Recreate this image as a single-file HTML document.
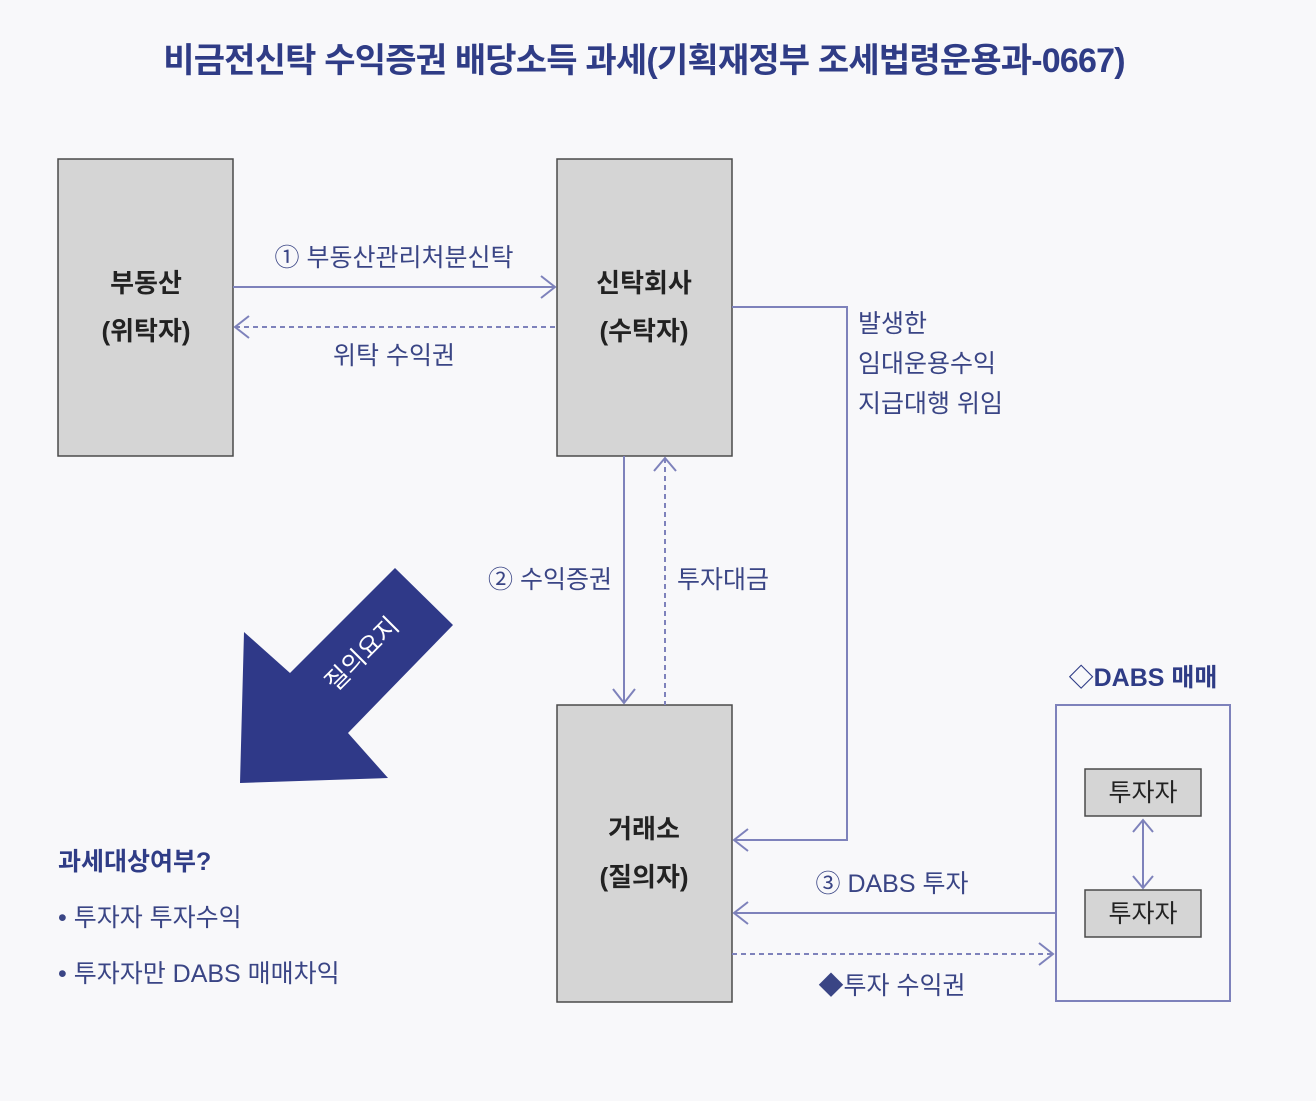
<!DOCTYPE html>
<html><head><meta charset="utf-8"><style>
body{margin:0;background:#f8f8fa;}
svg text{font-family:"Liberation Sans","Noto Sans CJK KR",sans-serif;}
</style></head><body>
<svg width="1316" height="1096" viewBox="0 0 1316 1096" xmlns="http://www.w3.org/2000/svg">
<rect width="1316" height="1096" fill="#f8f8fa"/>
<text x="644" y="72" text-anchor="middle" font-size="34" font-weight="bold" fill="#2f3c86" letter-spacing="-0.8">비금전신탁 수익증권 배당소득 과세(기획재정부 조세법령운용과-0667)</text>
<g fill="#d5d5d5" stroke="#4a4a4a" stroke-width="1.5">
<rect x="58" y="159" width="175" height="297"/>
<rect x="557" y="159" width="175" height="297"/>
<rect x="557" y="705" width="175" height="297"/>
</g>
<g font-size="26" font-weight="bold" fill="#222" text-anchor="middle">
<text x="146" y="292">부동산</text><text x="146" y="340">(위탁자)</text>
<text x="644" y="292">신탁회사</text><text x="644" y="340">(수탁자)</text>
<text x="644" y="838">거래소</text><text x="644" y="886">(질의자)</text>
</g>
<g stroke="#7e82bb" stroke-width="2" fill="none">
<line x1="233" y1="287" x2="555" y2="287"/><polyline points="541,276 555,287 541,298"/>
<line x1="235" y1="327" x2="557" y2="327" stroke-dasharray="5,4"/><polyline points="249,316 235,327 249,338"/>
<polyline points="732,307 847,307 847,840 734,840"/><polyline points="748,829 734,840 748,851"/>
<line x1="624" y1="456" x2="624" y2="703"/><polyline points="613,689 624,703 635,689"/>
<line x1="665" y1="458" x2="665" y2="705" stroke-dasharray="5,4"/><polyline points="654,471 665,458 676,471"/>
<line x1="734" y1="913" x2="1056" y2="913"/><polyline points="748,902 734,913 748,924"/>
<line x1="732" y1="954" x2="1053" y2="954" stroke-dasharray="5,4"/><polyline points="1039,943 1053,954 1039,965"/>
<rect x="1056" y="705" width="174" height="296"/>
<line x1="1143" y1="820" x2="1143" y2="888"/><polyline points="1133,832 1143,820 1153,832"/><polyline points="1133,876 1143,888 1153,876"/>
</g>
<g fill="#d5d5d5" stroke="#4a4a4a" stroke-width="1.5">
<rect x="1085" y="769" width="116" height="47"/><rect x="1085" y="890" width="116" height="47"/>
</g>
<g font-size="25" fill="#222" text-anchor="middle"><text x="1143" y="801">투자자</text><text x="1143" y="922">투자자</text></g>
<g font-size="25" fill="#3a4585">
<text x="394" y="266" text-anchor="middle">① 부동산관리처분신탁</text>
<text x="394" y="364" text-anchor="middle">위탁 수익권</text>
<text x="858" y="332">발생한</text><text x="858" y="372">임대운용수익</text><text x="858" y="412">지급대행 위임</text>
<text x="612" y="588" text-anchor="end">② 수익증권</text>
<text x="677" y="588">투자대금</text>
<text x="892" y="892" text-anchor="middle">③ DABS 투자</text>
<text x="892" y="994" text-anchor="middle">◆투자 수익권</text>
<text x="1143" y="686" text-anchor="middle" font-weight="bold" fill="#2f3c86">◇DABS 매매</text>
<text x="58" y="870" font-weight="bold" fill="#2f3c86">과세대상여부?</text>
<text x="58" y="926">• 투자자 투자수익</text>
<text x="58" y="982">• 투자자만 DABS 매매차익</text>
</g>
<polygon points="395,568 453,625 348,733 388,778 240,783 244,632 290,673" fill="#2f3988"/>
<text transform="translate(368,660) rotate(-45)" text-anchor="middle" font-size="25" fill="#fff">질의요지</text>
</svg>
</body></html>
